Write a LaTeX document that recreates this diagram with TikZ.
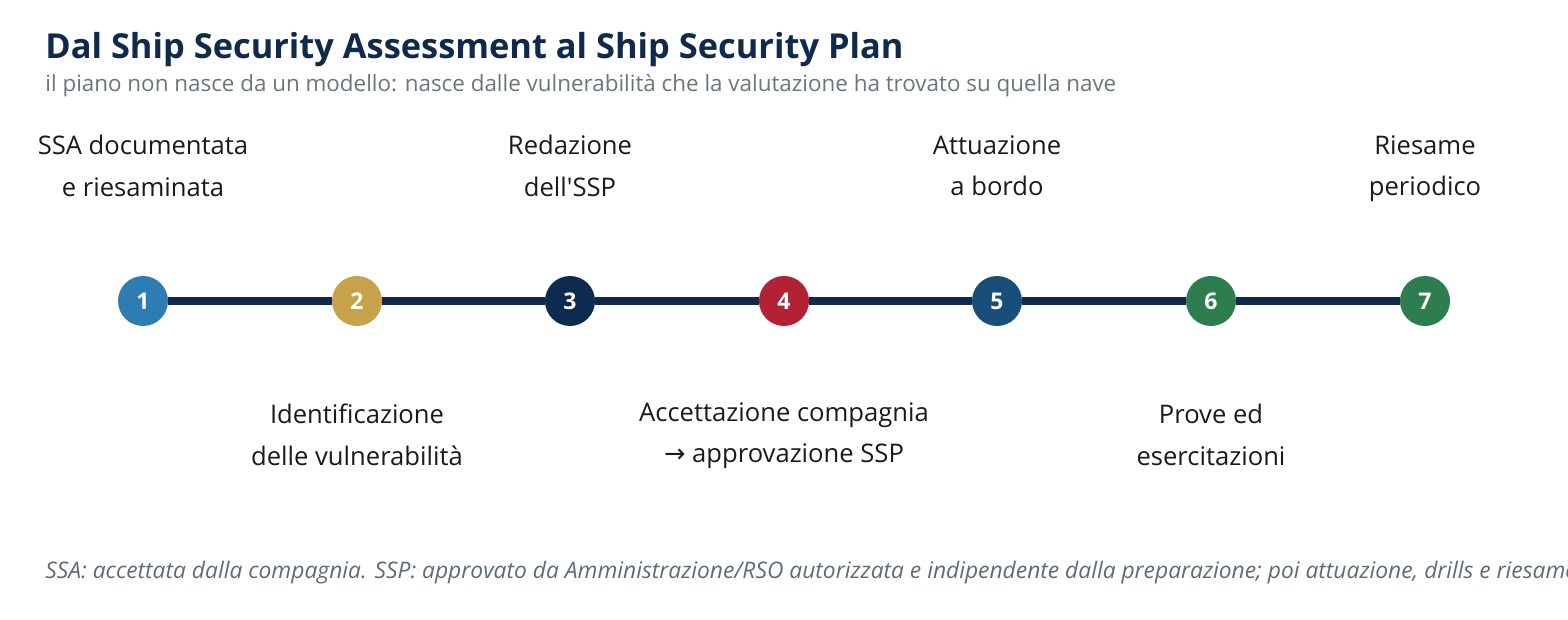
\documentclass[tikz,border=0pt]{standalone}
\usepackage{fontspec}
\setmainfont{Open Sans}
\newfontfamily\arrowfont{DejaVu Sans}
\usetikzlibrary{positioning}

\definecolor{navy}{HTML}{0F2A4A}
\definecolor{subgray}{HTML}{6B7580}
\definecolor{notegray}{HTML}{5F6B78}
\definecolor{ink}{HTML}{1A1A1A}
\definecolor{stepblue}{HTML}{2E7DB2}
\definecolor{stepgold}{HTML}{C8A24A}
\definecolor{stepnavy}{HTML}{0D2B4E}
\definecolor{stepred}{HTML}{B22234}
\definecolor{stepsea}{HTML}{174F7A}
\definecolor{stepgreen}{HTML}{2E7D4F}

\begin{document}
\begin{tikzpicture}[x=0.5pt,y=-0.5pt]
	\tikzstyle{stepdot}=[circle, minimum size=25pt, inner sep=0pt, text=white, font=\bfseries\fontsize{11.5}{13}\selectfont]
	\tikzstyle{steplabel}=[align=center, text=ink, font=\fontsize{12.8}{20.7}\selectfont, execute at begin node=\strut, execute at end node=\strut]
	
	\useasboundingbox (0,0) rectangle (1568,620);
	\fill[white] (0,0) rectangle (1568,620);
	
	%% title
	\node[anchor=base west, inner sep=0pt, text=navy, font=\bfseries\fontsize{17.2}{19}\selectfont] (title) at (45,59) {Dal Ship Security Assessment al Ship Security Plan};
	\node[anchor=base west, inner sep=0pt, text=subgray, font=\fontsize{11.2}{13}\selectfont] (subtitle) at (45,92) {il piano non nasce da un modello: nasce dalle vulnerabilità che la valutazione ha trovato su quella nave};
	
	%% steps
	\node[stepdot, fill=stepblue]  (s1) at (143,301) {1};
	\node[stepdot, fill=stepgold]  (s2) at (357,301) {2};
	\node[stepdot, fill=stepnavy]  (s3) at (570,301) {3};
	\node[stepdot, fill=stepred]   (s4) at (784,301) {4};
	\node[stepdot, fill=stepsea]   (s5) at (997,301) {5};
	\node[stepdot, fill=stepgreen] (s6) at (1211,301) {6};
	\node[stepdot, fill=stepgreen] (s7) at (1425,301) {7};
	
	\draw[navy, line width=4pt] (s1) -- (s2) -- (s3) -- (s4) -- (s5) -- (s6) -- (s7);
	
	%% labels
	\node[steplabel] (l1) at (143,172) {SSA documentata\\e riesaminata};
	\node[steplabel] (l2) at (357,441) {Identificazione\\delle vulnerabilità};
	\node[steplabel] (l3) at (570,172) {Redazione\\dell\textquotesingle SSP};
	\node[steplabel] (l4) at (784,439) {Accettazione compagnia\\{\arrowfont →} approvazione SSP};
	\node[steplabel] (l5) at (997,172) {Attuazione\\a bordo};
	\node[steplabel] (l6) at (1211,441) {Prove ed\\esercitazioni};
	\node[steplabel] (l7) at (1425,172) {Riesame\\periodico};
	
	%% note
	\node[anchor=base west, inner sep=0pt, text=notegray, font=\itshape\fontsize{11.4}{13}\selectfont] (note) at (45,578) {SSA: accettata dalla compagnia. SSP: approvato da Amministrazione/RSO autorizzata e indipendente dalla preparazione; poi attuazione, drills e riesame periodico.};

\end{tikzpicture}
\end{document}
